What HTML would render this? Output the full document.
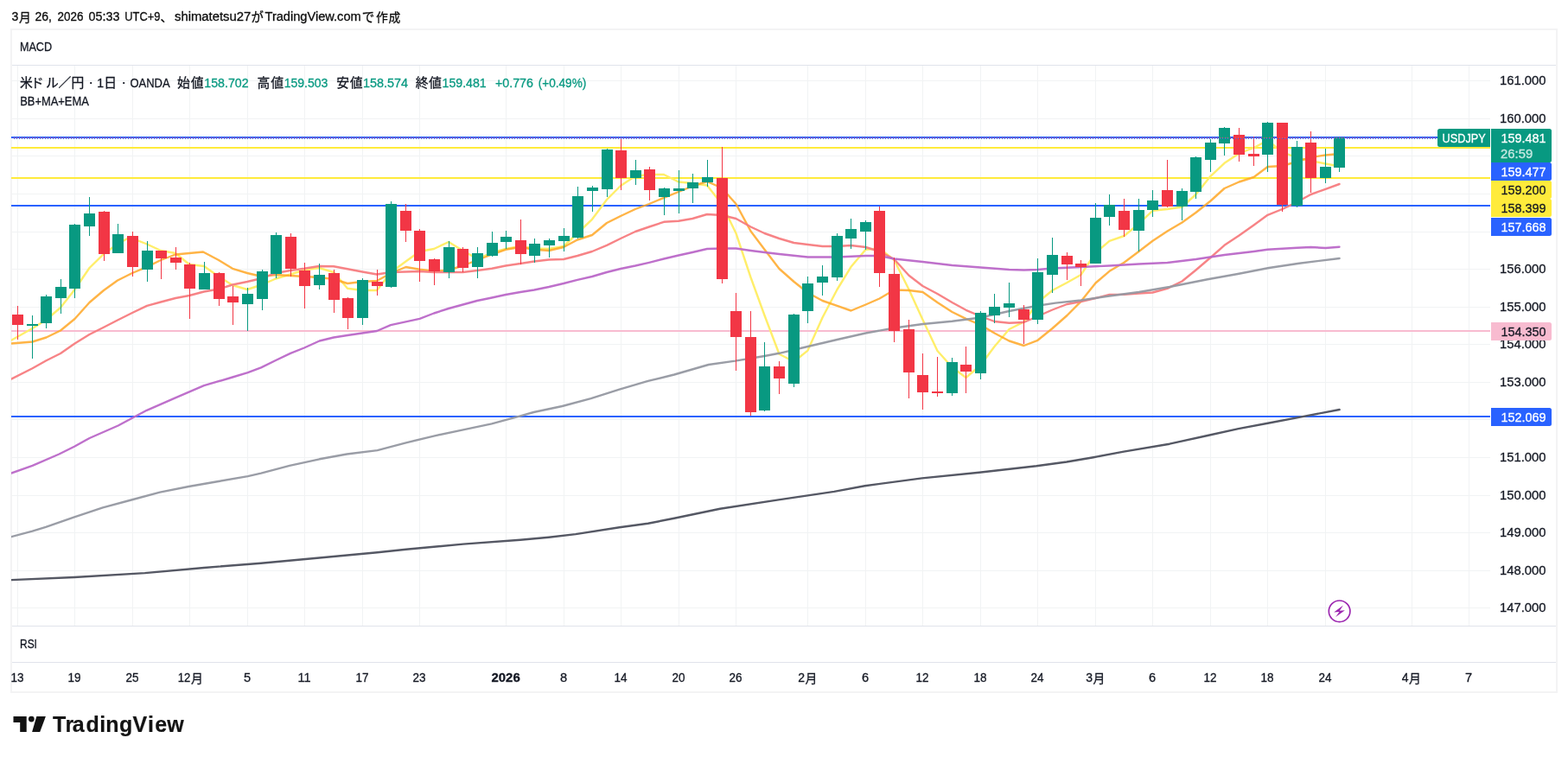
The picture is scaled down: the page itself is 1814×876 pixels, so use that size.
<!DOCTYPE html>
<html><head><meta charset="utf-8"><title>USDJPY chart</title>
<style>html,body{margin:0;padding:0;background:#fff}body{width:1814px;height:876px;overflow:hidden;font-family:"Liberation Sans","Noto Sans CJK JP",sans-serif}svg{display:block;will-change:transform}</style></head>
<body>
<svg width="1814" height="876" viewBox="0 0 1814 876" font-family="'Liberation Sans', 'Noto Sans CJK JP', sans-serif">
<style>text{stroke-width:0.3px;paint-order:stroke fill}</style>
<rect width="1814" height="876" fill="#fff"/>
<g shape-rendering="crispEdges">
<rect x="13" y="34" width="1788" height="767" fill="none" stroke="#f3f3f4" stroke-width="2"/>
<rect x="20" y="76" width="1" height="648" fill="#f1f3f4"/>
<rect x="86" y="76" width="1" height="648" fill="#f1f3f4"/>
<rect x="153" y="76" width="1" height="648" fill="#f1f3f4"/>
<rect x="219" y="76" width="1" height="648" fill="#f1f3f4"/>
<rect x="286" y="76" width="1" height="648" fill="#f1f3f4"/>
<rect x="352" y="76" width="1" height="648" fill="#f1f3f4"/>
<rect x="419" y="76" width="1" height="648" fill="#f1f3f4"/>
<rect x="485" y="76" width="1" height="648" fill="#f1f3f4"/>
<rect x="585" y="76" width="1" height="648" fill="#f1f3f4"/>
<rect x="652" y="76" width="1" height="648" fill="#f1f3f4"/>
<rect x="718" y="76" width="1" height="648" fill="#f1f3f4"/>
<rect x="785" y="76" width="1" height="648" fill="#f1f3f4"/>
<rect x="851" y="76" width="1" height="648" fill="#f1f3f4"/>
<rect x="934" y="76" width="1" height="648" fill="#f1f3f4"/>
<rect x="1001" y="76" width="1" height="648" fill="#f1f3f4"/>
<rect x="1067" y="76" width="1" height="648" fill="#f1f3f4"/>
<rect x="1134" y="76" width="1" height="648" fill="#f1f3f4"/>
<rect x="1200" y="76" width="1" height="648" fill="#f1f3f4"/>
<rect x="1267" y="76" width="1" height="648" fill="#f1f3f4"/>
<rect x="1333" y="76" width="1" height="648" fill="#f1f3f4"/>
<rect x="1400" y="76" width="1" height="648" fill="#f1f3f4"/>
<rect x="1466" y="76" width="1" height="648" fill="#f1f3f4"/>
<rect x="1533" y="76" width="1" height="648" fill="#f1f3f4"/>
<rect x="1633" y="76" width="1" height="648" fill="#f1f3f4"/>
<rect x="1699" y="76" width="1" height="648" fill="#f1f3f4"/>
<rect x="14" y="703" width="1710" height="1" fill="#f1f3f4"/>
<rect x="14" y="660" width="1710" height="1" fill="#f1f3f4"/>
<rect x="14" y="616" width="1710" height="1" fill="#f1f3f4"/>
<rect x="14" y="573" width="1710" height="1" fill="#f1f3f4"/>
<rect x="14" y="529" width="1710" height="1" fill="#f1f3f4"/>
<rect x="14" y="485" width="1710" height="1" fill="#f1f3f4"/>
<rect x="14" y="442" width="1710" height="1" fill="#f1f3f4"/>
<rect x="14" y="398" width="1710" height="1" fill="#f1f3f4"/>
<rect x="14" y="355" width="1710" height="1" fill="#f1f3f4"/>
<rect x="14" y="311" width="1710" height="1" fill="#f1f3f4"/>
<rect x="14" y="268" width="1710" height="1" fill="#f1f3f4"/>
<rect x="14" y="224" width="1710" height="1" fill="#f1f3f4"/>
<rect x="14" y="180" width="1710" height="1" fill="#f1f3f4"/>
<rect x="14" y="137" width="1710" height="1" fill="#f1f3f4"/>
<rect x="14" y="93" width="1710" height="1" fill="#f1f3f4"/>
<rect x="14" y="75" width="1786" height="1" fill="#e0e3eb"/>
<rect x="14" y="724" width="1786" height="1" fill="#e0e3eb"/>
<rect x="14" y="766" width="1786" height="1" fill="#e0e3eb"/>
</g>
<g shape-rendering="crispEdges">
<rect x="13" y="382" width="1711" height="2" fill="#f8bbd0"/>
<rect x="13" y="481" width="1711" height="2" fill="#2962ff"/>
<rect x="13" y="237" width="1711" height="2" fill="#2962ff"/>
<rect x="13" y="205" width="1711" height="2" fill="#ffeb3b"/>
<rect x="13" y="170" width="1711" height="2" fill="#ffeb3b"/>
<rect x="13" y="158" width="1711" height="2" fill="#2962ff"/>
</g>
<clipPath id="cp"><rect x="13" y="76" width="1711" height="648"/></clipPath><g clip-path="url(#cp)">
<polyline points="13.0,393.8 37.5,380.0 53.5,370.0 70.0,356.0 86.5,335.0 103.5,310.0 120.0,293.8 136.0,282.5 147.5,276.0 153.0,275.8 170.0,282.5 186.0,290.0 203.0,293.0 219.0,306.0 236.0,308.0 253.0,320.0 269.0,330.0 286.0,335.0 303.0,329.5 319.0,322.5 336.0,317.5 352.0,312.5 369.0,310.0 386.0,315.0 402.0,333.8 419.0,336.0 436.0,336.0 452.5,315.0 469.5,302.5 485.5,291.0 502.0,288.0 519.0,280.0 535.5,290.0 552.0,299.5 569.0,292.5 585.0,288.0 602.0,285.0 618.0,287.5 635.0,288.0 652.0,285.0 668.0,270.0 685.0,253.8 702.0,231.0 718.0,215.0 735.0,203.8 751.0,202.0 768.0,202.0 785.0,210.5 801.0,212.0 818.0,214.5 835.0,236.0 851.5,270.0 868.5,321.0 884.5,365.0 901.5,409.8 918.5,418.5 934.5,405.6 951.5,367.5 968.5,335.0 984.5,308.8 1001.5,288.8 1017.5,287.5 1034.5,301.0 1051.5,335.0 1067.5,370.0 1084.5,406.0 1101.5,425.0 1117.5,437.0 1134.5,422.5 1150.5,401.0 1167.5,381.0 1184.5,372.5 1200.5,350.0 1217.5,336.0 1234.5,327.0 1250.5,318.0 1267.5,292.5 1283.5,278.8 1300.5,273.0 1317.5,258.8 1333.5,243.8 1350.5,242.0 1367.5,239.5 1383.5,225.0 1400.5,203.8 1416.5,188.8 1433.5,177.5 1450.5,171.0 1466.5,162.5 1483.5,176.0 1500.5,182.5 1516.5,186.0 1533.5,189.5 1549.5,192.5" fill="none" stroke="#ffee6a" stroke-width="2.4" stroke-linejoin="round" stroke-linecap="round" stroke-opacity="1"/>
<polyline points="13.0,397.5 37.5,395.5 53.5,390.5 70.0,382.5 86.5,369.0 103.5,350.0 120.0,336.0 136.0,324.5 153.0,316.0 170.0,308.8 186.0,301.0 203.0,294.5 219.0,293.0 235.0,291.5 253.0,301.0 269.0,310.8 286.0,316.0 303.0,320.0 319.0,318.0 336.0,319.0 352.0,320.0 369.0,321.0 386.0,323.0 402.0,328.0 419.0,326.0 436.0,325.0 452.5,316.0 469.5,309.0 485.5,311.8 502.0,313.8 519.0,312.5 535.5,307.5 552.0,301.0 569.0,294.5 585.0,288.8 602.0,286.0 618.0,288.8 635.0,290.0 652.0,286.0 668.0,277.5 685.0,272.0 702.0,258.0 718.0,250.0 735.0,242.0 751.0,236.0 768.0,228.8 785.0,222.0 801.0,215.5 818.0,210.0 835.0,217.5 851.5,236.0 868.5,267.5 884.5,288.8 901.5,311.0 918.5,326.0 934.5,338.8 951.5,348.0 968.5,353.8 984.5,359.5 1001.5,352.5 1017.5,345.5 1034.5,335.5 1051.5,336.0 1067.5,338.0 1084.5,350.0 1101.5,361.0 1117.5,368.8 1134.5,376.0 1150.5,385.5 1167.5,394.5 1184.5,400.0 1200.5,393.8 1217.5,380.0 1234.5,365.0 1250.5,348.8 1267.5,327.5 1283.5,313.8 1300.5,303.8 1317.5,291.0 1333.5,278.8 1350.5,267.5 1367.5,257.5 1383.5,246.0 1400.5,232.5 1416.5,218.0 1433.5,210.5 1450.5,205.0 1466.5,193.0 1483.5,192.0 1500.5,187.0 1516.5,182.0 1533.5,179.5 1549.5,178.0" fill="none" stroke="#ffa726" stroke-width="2.4" stroke-linejoin="round" stroke-linecap="round" stroke-opacity="0.85"/>
<polyline points="13.0,438.7 37.5,426.3 53.5,417.3 70.0,409.0 86.5,397.5 103.5,387.0 120.0,378.8 136.0,370.5 153.0,362.0 170.0,353.8 186.0,349.5 203.0,345.0 219.0,342.0 236.0,337.5 253.0,334.5 269.0,329.5 286.0,326.0 303.0,322.0 319.0,316.0 336.0,313.0 352.0,310.8 369.0,308.0 386.0,308.2 402.0,311.2 419.0,314.5 436.0,317.5 452.5,315.0 469.5,314.5 485.5,314.0 502.0,315.0 519.0,315.0 535.5,315.0 552.0,313.0 569.0,310.8 585.0,307.5 602.0,305.0 618.0,302.5 635.0,300.5 652.0,300.0 668.0,296.0 685.0,291.0 702.0,283.8 718.0,276.0 735.0,268.0 751.0,262.5 768.0,256.8 785.0,255.8 801.0,253.0 818.0,248.0 835.0,249.0 851.5,253.0 868.5,262.5 884.5,270.0 901.5,276.0 918.5,281.0 934.5,283.0 951.5,285.0 968.5,285.0 984.5,284.0 1001.5,286.0 1017.5,291.0 1034.5,300.0 1051.5,318.8 1067.5,331.0 1084.5,340.0 1101.5,350.0 1117.5,358.8 1134.5,366.0 1150.5,372.0 1167.5,373.8 1184.5,373.0 1200.5,366.0 1217.5,358.5 1234.5,352.0 1250.5,349.0 1267.5,345.0 1283.5,341.0 1300.5,340.8 1317.5,339.5 1333.5,338.5 1350.5,333.8 1367.5,325.5 1383.5,312.5 1400.5,298.0 1416.5,283.8 1433.5,272.5 1450.5,260.5 1466.5,248.8 1483.5,242.0 1500.5,233.8 1516.5,225.0 1533.5,218.8 1549.5,213.0" fill="none" stroke="#f77c80" stroke-width="2.4" stroke-linejoin="round" stroke-linecap="round" stroke-opacity="0.95"/>
<polyline points="13.0,547.6 37.5,538.8 68.4,525.5 86.0,516.7 103.6,507.0 136.7,492.5 169.8,474.8 202.9,460.3 236.0,446.2 269.0,436.5 286.7,431.2 302.0,425.4 319.0,417.0 336.0,408.8 352.0,402.5 369.6,394.5 386.0,390.5 402.0,388.0 419.0,385.5 436.0,383.0 452.0,376.2 485.5,368.8 502.0,362.5 519.0,357.0 535.5,352.5 552.0,348.0 569.0,344.5 585.0,341.0 602.0,338.0 618.0,335.5 635.0,332.0 652.0,328.0 668.0,323.8 685.0,320.0 702.0,315.0 718.0,311.0 735.0,307.5 751.0,303.8 768.0,299.5 785.0,295.5 801.0,292.0 818.0,288.0 835.0,287.5 851.5,287.5 868.5,290.0 884.5,292.0 901.5,294.0 934.5,297.5 968.5,297.5 1001.5,296.0 1017.5,296.0 1034.5,299.5 1067.5,303.0 1101.5,307.0 1134.5,309.5 1167.5,312.0 1184.5,312.5 1200.5,312.0 1217.5,310.5 1250.5,309.0 1283.5,307.5 1317.5,305.5 1350.5,304.0 1383.5,300.0 1416.5,295.0 1450.5,291.0 1466.5,288.8 1500.5,286.8 1516.5,286.0 1533.5,287.0 1549.5,285.8" fill="none" stroke="#ba68c8" stroke-width="2.4" stroke-linejoin="round" stroke-linecap="round" stroke-opacity="0.95"/>
<polyline points="13.0,621.2 37.5,614.6 53.0,609.8 86.0,598.3 119.0,587.3 152.0,578.5 185.0,569.6 218.3,563.0 251.4,557.3 286.7,551.1 302.0,547.6 335.0,538.8 369.6,531.3 401.3,525.5 436.6,521.1 469.7,512.3 502.8,504.4 535.8,497.3 568.9,490.3 602.0,481.4 617.4,477.0 650.5,470.0 683.6,461.1 716.6,450.6 749.7,440.9 780.0,433.5 819.7,422.0 850.6,417.6 884.5,412.0 901.5,408.8 934.5,401.0 968.5,393.0 1001.5,385.5 1034.5,379.5 1067.5,375.0 1101.5,371.8 1134.5,367.5 1167.5,360.0 1200.5,353.8 1221.0,350.6 1250.5,347.5 1283.5,342.5 1317.5,338.0 1353.0,332.0 1397.0,323.2 1432.0,317.0 1468.0,310.0 1503.0,304.7 1549.6,299.0" fill="none" stroke="#9598a1" stroke-width="2.4" stroke-linejoin="round" stroke-linecap="round" stroke-opacity="0.95"/>
<polyline points="13.0,671.1 86.0,668.0 167.6,663.1 236.0,657.0 302.0,651.7 369.6,645.5 436.6,639.3 469.7,635.8 535.8,629.6 602.0,624.8 635.0,621.7 666.0,618.1 716.6,610.2 749.7,605.8 780.0,599.7 833.0,588.7 899.0,578.6 965.0,568.9 1000.5,562.2 1066.7,553.4 1132.8,546.8 1199.0,539.3 1234.0,534.5 1265.0,529.2 1300.0,522.6 1353.0,513.7 1397.0,504.0 1432.7,496.1 1468.0,489.5 1503.0,482.9 1549.6,474.0" fill="none" stroke="#555864" stroke-width="2.4" stroke-linejoin="round" stroke-linecap="round" stroke-opacity="1"/>
</g>
<g shape-rendering="crispEdges">
<rect x="20" y="354" width="1" height="39" fill="#f23645"/>
<rect x="14" y="364" width="13" height="12" fill="#f23645"/>
<rect x="37" y="365" width="1" height="50" fill="#089981"/>
<rect x="31" y="375" width="13" height="2" fill="#089981"/>
<rect x="53" y="341" width="1" height="39" fill="#089981"/>
<rect x="47" y="343" width="13" height="31" fill="#089981"/>
<rect x="70" y="323" width="1" height="40" fill="#089981"/>
<rect x="64" y="332" width="13" height="13" fill="#089981"/>
<rect x="86" y="259" width="1" height="86" fill="#089981"/>
<rect x="80" y="260" width="13" height="74" fill="#089981"/>
<rect x="103" y="228" width="1" height="45" fill="#089981"/>
<rect x="97" y="247" width="13" height="15" fill="#089981"/>
<rect x="120" y="244" width="1" height="58" fill="#f23645"/>
<rect x="114" y="245" width="13" height="49" fill="#f23645"/>
<rect x="136" y="259" width="1" height="34" fill="#089981"/>
<rect x="130" y="271" width="13" height="22" fill="#089981"/>
<rect x="153" y="268" width="1" height="52" fill="#f23645"/>
<rect x="147" y="273" width="13" height="36" fill="#f23645"/>
<rect x="170" y="279" width="1" height="47" fill="#089981"/>
<rect x="164" y="290" width="13" height="22" fill="#089981"/>
<rect x="186" y="290" width="1" height="33" fill="#f23645"/>
<rect x="180" y="290" width="13" height="9" fill="#f23645"/>
<rect x="203" y="286" width="1" height="26" fill="#f23645"/>
<rect x="197" y="298" width="13" height="6" fill="#f23645"/>
<rect x="219" y="304" width="1" height="65" fill="#f23645"/>
<rect x="213" y="306" width="13" height="28" fill="#f23645"/>
<rect x="236" y="303" width="1" height="32" fill="#089981"/>
<rect x="230" y="316" width="13" height="19" fill="#089981"/>
<rect x="253" y="315" width="1" height="39" fill="#f23645"/>
<rect x="247" y="316" width="13" height="30" fill="#f23645"/>
<rect x="269" y="331" width="1" height="45" fill="#f23645"/>
<rect x="263" y="343" width="13" height="7" fill="#f23645"/>
<rect x="286" y="333" width="1" height="50" fill="#089981"/>
<rect x="280" y="340" width="13" height="12" fill="#089981"/>
<rect x="303" y="312" width="1" height="47" fill="#089981"/>
<rect x="297" y="314" width="13" height="32" fill="#089981"/>
<rect x="319" y="269" width="1" height="53" fill="#089981"/>
<rect x="313" y="272" width="13" height="45" fill="#089981"/>
<rect x="336" y="270" width="1" height="50" fill="#f23645"/>
<rect x="330" y="274" width="13" height="37" fill="#f23645"/>
<rect x="352" y="304" width="1" height="53" fill="#f23645"/>
<rect x="346" y="313" width="13" height="18" fill="#f23645"/>
<rect x="369" y="305" width="1" height="30" fill="#089981"/>
<rect x="363" y="318" width="13" height="12" fill="#089981"/>
<rect x="386" y="312" width="1" height="50" fill="#f23645"/>
<rect x="380" y="316" width="13" height="31" fill="#f23645"/>
<rect x="402" y="344" width="1" height="37" fill="#f23645"/>
<rect x="396" y="345" width="13" height="23" fill="#f23645"/>
<rect x="419" y="322" width="1" height="54" fill="#089981"/>
<rect x="413" y="324" width="13" height="44" fill="#089981"/>
<rect x="436" y="312" width="1" height="30" fill="#f23645"/>
<rect x="430" y="326" width="13" height="5" fill="#f23645"/>
<rect x="452" y="233" width="1" height="100" fill="#089981"/>
<rect x="446" y="236" width="13" height="96" fill="#089981"/>
<rect x="469" y="236" width="1" height="44" fill="#f23645"/>
<rect x="463" y="244" width="13" height="23" fill="#f23645"/>
<rect x="485" y="265" width="1" height="61" fill="#f23645"/>
<rect x="479" y="267" width="13" height="35" fill="#f23645"/>
<rect x="502" y="299" width="1" height="31" fill="#f23645"/>
<rect x="496" y="300" width="13" height="14" fill="#f23645"/>
<rect x="519" y="279" width="1" height="43" fill="#089981"/>
<rect x="513" y="286" width="13" height="29" fill="#089981"/>
<rect x="535" y="286" width="1" height="29" fill="#f23645"/>
<rect x="529" y="288" width="13" height="22" fill="#f23645"/>
<rect x="552" y="286" width="1" height="36" fill="#089981"/>
<rect x="546" y="293" width="13" height="16" fill="#089981"/>
<rect x="569" y="268" width="1" height="29" fill="#089981"/>
<rect x="563" y="281" width="13" height="15" fill="#089981"/>
<rect x="585" y="267" width="1" height="21" fill="#089981"/>
<rect x="579" y="274" width="13" height="6" fill="#089981"/>
<rect x="602" y="254" width="1" height="52" fill="#f23645"/>
<rect x="596" y="278" width="13" height="16" fill="#f23645"/>
<rect x="618" y="276" width="1" height="28" fill="#089981"/>
<rect x="612" y="282" width="13" height="14" fill="#089981"/>
<rect x="635" y="276" width="1" height="22" fill="#089981"/>
<rect x="629" y="278" width="13" height="6" fill="#089981"/>
<rect x="652" y="264" width="1" height="27" fill="#089981"/>
<rect x="646" y="273" width="13" height="6" fill="#089981"/>
<rect x="668" y="216" width="1" height="60" fill="#089981"/>
<rect x="662" y="227" width="13" height="48" fill="#089981"/>
<rect x="685" y="215" width="1" height="30" fill="#089981"/>
<rect x="679" y="217" width="13" height="4" fill="#089981"/>
<rect x="702" y="172" width="1" height="56" fill="#089981"/>
<rect x="696" y="173" width="13" height="46" fill="#089981"/>
<rect x="718" y="160" width="1" height="60" fill="#f23645"/>
<rect x="712" y="174" width="13" height="32" fill="#f23645"/>
<rect x="735" y="185" width="1" height="29" fill="#089981"/>
<rect x="729" y="197" width="13" height="9" fill="#089981"/>
<rect x="751" y="193" width="1" height="39" fill="#f23645"/>
<rect x="745" y="196" width="13" height="24" fill="#f23645"/>
<rect x="768" y="217" width="1" height="32" fill="#089981"/>
<rect x="762" y="218" width="13" height="10" fill="#089981"/>
<rect x="785" y="197" width="1" height="50" fill="#089981"/>
<rect x="779" y="218" width="13" height="3" fill="#089981"/>
<rect x="801" y="201" width="1" height="34" fill="#089981"/>
<rect x="795" y="211" width="13" height="7" fill="#089981"/>
<rect x="818" y="185" width="1" height="31" fill="#089981"/>
<rect x="812" y="205" width="13" height="6" fill="#089981"/>
<rect x="835" y="170" width="1" height="158" fill="#f23645"/>
<rect x="829" y="206" width="13" height="117" fill="#f23645"/>
<rect x="851" y="339" width="1" height="90" fill="#f23645"/>
<rect x="845" y="360" width="13" height="30" fill="#f23645"/>
<rect x="868" y="360" width="1" height="121" fill="#f23645"/>
<rect x="862" y="390" width="13" height="87" fill="#f23645"/>
<rect x="884" y="396" width="1" height="80" fill="#089981"/>
<rect x="878" y="424" width="13" height="51" fill="#089981"/>
<rect x="901" y="418" width="1" height="38" fill="#f23645"/>
<rect x="895" y="424" width="13" height="14" fill="#f23645"/>
<rect x="918" y="363" width="1" height="85" fill="#089981"/>
<rect x="912" y="364" width="13" height="80" fill="#089981"/>
<rect x="934" y="320" width="1" height="54" fill="#089981"/>
<rect x="928" y="328" width="13" height="32" fill="#089981"/>
<rect x="951" y="307" width="1" height="35" fill="#089981"/>
<rect x="945" y="320" width="13" height="7" fill="#089981"/>
<rect x="968" y="270" width="1" height="55" fill="#089981"/>
<rect x="962" y="273" width="13" height="48" fill="#089981"/>
<rect x="984" y="253" width="1" height="35" fill="#089981"/>
<rect x="978" y="265" width="13" height="11" fill="#089981"/>
<rect x="1001" y="255" width="1" height="34" fill="#089981"/>
<rect x="995" y="257" width="13" height="11" fill="#089981"/>
<rect x="1017" y="239" width="1" height="93" fill="#f23645"/>
<rect x="1011" y="244" width="13" height="72" fill="#f23645"/>
<rect x="1034" y="298" width="1" height="98" fill="#f23645"/>
<rect x="1028" y="317" width="13" height="66" fill="#f23645"/>
<rect x="1051" y="370" width="1" height="91" fill="#f23645"/>
<rect x="1045" y="381" width="13" height="50" fill="#f23645"/>
<rect x="1067" y="409" width="1" height="65" fill="#f23645"/>
<rect x="1061" y="434" width="13" height="20" fill="#f23645"/>
<rect x="1084" y="413" width="1" height="46" fill="#f23645"/>
<rect x="1078" y="453" width="13" height="2" fill="#f23645"/>
<rect x="1101" y="414" width="1" height="44" fill="#089981"/>
<rect x="1095" y="419" width="13" height="36" fill="#089981"/>
<rect x="1117" y="401" width="1" height="54" fill="#f23645"/>
<rect x="1111" y="422" width="13" height="8" fill="#f23645"/>
<rect x="1134" y="360" width="1" height="79" fill="#089981"/>
<rect x="1128" y="362" width="13" height="70" fill="#089981"/>
<rect x="1150" y="340" width="1" height="34" fill="#089981"/>
<rect x="1144" y="355" width="13" height="10" fill="#089981"/>
<rect x="1167" y="327" width="1" height="40" fill="#089981"/>
<rect x="1161" y="351" width="13" height="5" fill="#089981"/>
<rect x="1184" y="353" width="1" height="45" fill="#f23645"/>
<rect x="1178" y="358" width="13" height="12" fill="#f23645"/>
<rect x="1200" y="299" width="1" height="76" fill="#089981"/>
<rect x="1194" y="315" width="13" height="55" fill="#089981"/>
<rect x="1217" y="275" width="1" height="64" fill="#089981"/>
<rect x="1211" y="295" width="13" height="23" fill="#089981"/>
<rect x="1234" y="292" width="1" height="32" fill="#f23645"/>
<rect x="1228" y="296" width="13" height="10" fill="#f23645"/>
<rect x="1250" y="301" width="1" height="30" fill="#f23645"/>
<rect x="1244" y="305" width="13" height="4" fill="#f23645"/>
<rect x="1267" y="235" width="1" height="70" fill="#089981"/>
<rect x="1261" y="252" width="13" height="53" fill="#089981"/>
<rect x="1283" y="225" width="1" height="36" fill="#089981"/>
<rect x="1277" y="237" width="13" height="14" fill="#089981"/>
<rect x="1300" y="230" width="1" height="44" fill="#f23645"/>
<rect x="1294" y="244" width="13" height="22" fill="#f23645"/>
<rect x="1317" y="230" width="1" height="61" fill="#089981"/>
<rect x="1311" y="243" width="13" height="24" fill="#089981"/>
<rect x="1333" y="220" width="1" height="31" fill="#089981"/>
<rect x="1327" y="232" width="13" height="11" fill="#089981"/>
<rect x="1350" y="185" width="1" height="55" fill="#f23645"/>
<rect x="1344" y="220" width="13" height="19" fill="#f23645"/>
<rect x="1367" y="218" width="1" height="37" fill="#089981"/>
<rect x="1361" y="221" width="13" height="18" fill="#089981"/>
<rect x="1383" y="181" width="1" height="49" fill="#089981"/>
<rect x="1377" y="182" width="13" height="40" fill="#089981"/>
<rect x="1400" y="161" width="1" height="38" fill="#089981"/>
<rect x="1394" y="165" width="13" height="20" fill="#089981"/>
<rect x="1416" y="147" width="1" height="33" fill="#089981"/>
<rect x="1410" y="148" width="13" height="18" fill="#089981"/>
<rect x="1433" y="148" width="1" height="39" fill="#f23645"/>
<rect x="1427" y="156" width="13" height="23" fill="#f23645"/>
<rect x="1450" y="158" width="1" height="34" fill="#f23645"/>
<rect x="1444" y="178" width="13" height="3" fill="#f23645"/>
<rect x="1466" y="141" width="1" height="58" fill="#089981"/>
<rect x="1460" y="142" width="13" height="37" fill="#089981"/>
<rect x="1483" y="142" width="1" height="103" fill="#f23645"/>
<rect x="1477" y="142" width="13" height="95" fill="#f23645"/>
<rect x="1500" y="163" width="1" height="77" fill="#089981"/>
<rect x="1494" y="170" width="13" height="68" fill="#089981"/>
<rect x="1516" y="152" width="1" height="71" fill="#f23645"/>
<rect x="1510" y="165" width="13" height="41" fill="#f23645"/>
<rect x="1533" y="172" width="1" height="40" fill="#089981"/>
<rect x="1527" y="193" width="13" height="13" fill="#089981"/>
<rect x="1549" y="159" width="1" height="40" fill="#089981"/>
<rect x="1543" y="159" width="13" height="35" fill="#089981"/>
</g>
<g shape-rendering="crispEdges">
<path d="M16 159h1v1h-1zM19 159h1v1h-1zM22 159h1v1h-1zM25 159h1v1h-1zM28 159h1v1h-1zM31 159h1v1h-1zM34 159h1v1h-1zM37 159h1v1h-1zM40 159h1v1h-1zM43 159h1v1h-1zM46 159h1v1h-1zM49 159h1v1h-1zM52 159h1v1h-1zM55 159h1v1h-1zM58 159h1v1h-1zM61 159h1v1h-1zM64 159h1v1h-1zM67 159h1v1h-1zM70 159h1v1h-1zM73 159h1v1h-1zM76 159h1v1h-1zM79 159h1v1h-1zM82 159h1v1h-1zM85 159h1v1h-1zM88 159h1v1h-1zM91 159h1v1h-1zM94 159h1v1h-1zM97 159h1v1h-1zM100 159h1v1h-1zM103 159h1v1h-1zM106 159h1v1h-1zM109 159h1v1h-1zM112 159h1v1h-1zM115 159h1v1h-1zM118 159h1v1h-1zM121 159h1v1h-1zM124 159h1v1h-1zM127 159h1v1h-1zM130 159h1v1h-1zM133 159h1v1h-1zM136 159h1v1h-1zM139 159h1v1h-1zM142 159h1v1h-1zM145 159h1v1h-1zM148 159h1v1h-1zM151 159h1v1h-1zM154 159h1v1h-1zM157 159h1v1h-1zM160 159h1v1h-1zM163 159h1v1h-1zM166 159h1v1h-1zM169 159h1v1h-1zM172 159h1v1h-1zM175 159h1v1h-1zM178 159h1v1h-1zM181 159h1v1h-1zM184 159h1v1h-1zM187 159h1v1h-1zM190 159h1v1h-1zM193 159h1v1h-1zM196 159h1v1h-1zM199 159h1v1h-1zM202 159h1v1h-1zM205 159h1v1h-1zM208 159h1v1h-1zM211 159h1v1h-1zM214 159h1v1h-1zM217 159h1v1h-1zM220 159h1v1h-1zM223 159h1v1h-1zM226 159h1v1h-1zM229 159h1v1h-1zM232 159h1v1h-1zM235 159h1v1h-1zM238 159h1v1h-1zM241 159h1v1h-1zM244 159h1v1h-1zM247 159h1v1h-1zM250 159h1v1h-1zM253 159h1v1h-1zM256 159h1v1h-1zM259 159h1v1h-1zM262 159h1v1h-1zM265 159h1v1h-1zM268 159h1v1h-1zM271 159h1v1h-1zM274 159h1v1h-1zM277 159h1v1h-1zM280 159h1v1h-1zM283 159h1v1h-1zM286 159h1v1h-1zM289 159h1v1h-1zM292 159h1v1h-1zM295 159h1v1h-1zM298 159h1v1h-1zM301 159h1v1h-1zM304 159h1v1h-1zM307 159h1v1h-1zM310 159h1v1h-1zM313 159h1v1h-1zM316 159h1v1h-1zM319 159h1v1h-1zM322 159h1v1h-1zM325 159h1v1h-1zM328 159h1v1h-1zM331 159h1v1h-1zM334 159h1v1h-1zM337 159h1v1h-1zM340 159h1v1h-1zM343 159h1v1h-1zM346 159h1v1h-1zM349 159h1v1h-1zM352 159h1v1h-1zM355 159h1v1h-1zM358 159h1v1h-1zM361 159h1v1h-1zM364 159h1v1h-1zM367 159h1v1h-1zM370 159h1v1h-1zM373 159h1v1h-1zM376 159h1v1h-1zM379 159h1v1h-1zM382 159h1v1h-1zM385 159h1v1h-1zM388 159h1v1h-1zM391 159h1v1h-1zM394 159h1v1h-1zM397 159h1v1h-1zM400 159h1v1h-1zM403 159h1v1h-1zM406 159h1v1h-1zM409 159h1v1h-1zM412 159h1v1h-1zM415 159h1v1h-1zM418 159h1v1h-1zM421 159h1v1h-1zM424 159h1v1h-1zM427 159h1v1h-1zM430 159h1v1h-1zM433 159h1v1h-1zM436 159h1v1h-1zM439 159h1v1h-1zM442 159h1v1h-1zM445 159h1v1h-1zM448 159h1v1h-1zM451 159h1v1h-1zM454 159h1v1h-1zM457 159h1v1h-1zM460 159h1v1h-1zM463 159h1v1h-1zM466 159h1v1h-1zM469 159h1v1h-1zM472 159h1v1h-1zM475 159h1v1h-1zM478 159h1v1h-1zM481 159h1v1h-1zM484 159h1v1h-1zM487 159h1v1h-1zM490 159h1v1h-1zM493 159h1v1h-1zM496 159h1v1h-1zM499 159h1v1h-1zM502 159h1v1h-1zM505 159h1v1h-1zM508 159h1v1h-1zM511 159h1v1h-1zM514 159h1v1h-1zM517 159h1v1h-1zM520 159h1v1h-1zM523 159h1v1h-1zM526 159h1v1h-1zM529 159h1v1h-1zM532 159h1v1h-1zM535 159h1v1h-1zM538 159h1v1h-1zM541 159h1v1h-1zM544 159h1v1h-1zM547 159h1v1h-1zM550 159h1v1h-1zM553 159h1v1h-1zM556 159h1v1h-1zM559 159h1v1h-1zM562 159h1v1h-1zM565 159h1v1h-1zM568 159h1v1h-1zM571 159h1v1h-1zM574 159h1v1h-1zM577 159h1v1h-1zM580 159h1v1h-1zM583 159h1v1h-1zM586 159h1v1h-1zM589 159h1v1h-1zM592 159h1v1h-1zM595 159h1v1h-1zM598 159h1v1h-1zM601 159h1v1h-1zM604 159h1v1h-1zM607 159h1v1h-1zM610 159h1v1h-1zM613 159h1v1h-1zM616 159h1v1h-1zM619 159h1v1h-1zM622 159h1v1h-1zM625 159h1v1h-1zM628 159h1v1h-1zM631 159h1v1h-1zM634 159h1v1h-1zM637 159h1v1h-1zM640 159h1v1h-1zM643 159h1v1h-1zM646 159h1v1h-1zM649 159h1v1h-1zM652 159h1v1h-1zM655 159h1v1h-1zM658 159h1v1h-1zM661 159h1v1h-1zM664 159h1v1h-1zM667 159h1v1h-1zM670 159h1v1h-1zM673 159h1v1h-1zM676 159h1v1h-1zM679 159h1v1h-1zM682 159h1v1h-1zM685 159h1v1h-1zM688 159h1v1h-1zM691 159h1v1h-1zM694 159h1v1h-1zM697 159h1v1h-1zM700 159h1v1h-1zM703 159h1v1h-1zM706 159h1v1h-1zM709 159h1v1h-1zM712 159h1v1h-1zM715 159h1v1h-1zM718 159h1v1h-1zM721 159h1v1h-1zM724 159h1v1h-1zM727 159h1v1h-1zM730 159h1v1h-1zM733 159h1v1h-1zM736 159h1v1h-1zM739 159h1v1h-1zM742 159h1v1h-1zM745 159h1v1h-1zM748 159h1v1h-1zM751 159h1v1h-1zM754 159h1v1h-1zM757 159h1v1h-1zM760 159h1v1h-1zM763 159h1v1h-1zM766 159h1v1h-1zM769 159h1v1h-1zM772 159h1v1h-1zM775 159h1v1h-1zM778 159h1v1h-1zM781 159h1v1h-1zM784 159h1v1h-1zM787 159h1v1h-1zM790 159h1v1h-1zM793 159h1v1h-1zM796 159h1v1h-1zM799 159h1v1h-1zM802 159h1v1h-1zM805 159h1v1h-1zM808 159h1v1h-1zM811 159h1v1h-1zM814 159h1v1h-1zM817 159h1v1h-1zM820 159h1v1h-1zM823 159h1v1h-1zM826 159h1v1h-1zM829 159h1v1h-1zM832 159h1v1h-1zM835 159h1v1h-1zM838 159h1v1h-1zM841 159h1v1h-1zM844 159h1v1h-1zM847 159h1v1h-1zM850 159h1v1h-1zM853 159h1v1h-1zM856 159h1v1h-1zM859 159h1v1h-1zM862 159h1v1h-1zM865 159h1v1h-1zM868 159h1v1h-1zM871 159h1v1h-1zM874 159h1v1h-1zM877 159h1v1h-1zM880 159h1v1h-1zM883 159h1v1h-1zM886 159h1v1h-1zM889 159h1v1h-1zM892 159h1v1h-1zM895 159h1v1h-1zM898 159h1v1h-1zM901 159h1v1h-1zM904 159h1v1h-1zM907 159h1v1h-1zM910 159h1v1h-1zM913 159h1v1h-1zM916 159h1v1h-1zM919 159h1v1h-1zM922 159h1v1h-1zM925 159h1v1h-1zM928 159h1v1h-1zM931 159h1v1h-1zM934 159h1v1h-1zM937 159h1v1h-1zM940 159h1v1h-1zM943 159h1v1h-1zM946 159h1v1h-1zM949 159h1v1h-1zM952 159h1v1h-1zM955 159h1v1h-1zM958 159h1v1h-1zM961 159h1v1h-1zM964 159h1v1h-1zM967 159h1v1h-1zM970 159h1v1h-1zM973 159h1v1h-1zM976 159h1v1h-1zM979 159h1v1h-1zM982 159h1v1h-1zM985 159h1v1h-1zM988 159h1v1h-1zM991 159h1v1h-1zM994 159h1v1h-1zM997 159h1v1h-1zM1000 159h1v1h-1zM1003 159h1v1h-1zM1006 159h1v1h-1zM1009 159h1v1h-1zM1012 159h1v1h-1zM1015 159h1v1h-1zM1018 159h1v1h-1zM1021 159h1v1h-1zM1024 159h1v1h-1zM1027 159h1v1h-1zM1030 159h1v1h-1zM1033 159h1v1h-1zM1036 159h1v1h-1zM1039 159h1v1h-1zM1042 159h1v1h-1zM1045 159h1v1h-1zM1048 159h1v1h-1zM1051 159h1v1h-1zM1054 159h1v1h-1zM1057 159h1v1h-1zM1060 159h1v1h-1zM1063 159h1v1h-1zM1066 159h1v1h-1zM1069 159h1v1h-1zM1072 159h1v1h-1zM1075 159h1v1h-1zM1078 159h1v1h-1zM1081 159h1v1h-1zM1084 159h1v1h-1zM1087 159h1v1h-1zM1090 159h1v1h-1zM1093 159h1v1h-1zM1096 159h1v1h-1zM1099 159h1v1h-1zM1102 159h1v1h-1zM1105 159h1v1h-1zM1108 159h1v1h-1zM1111 159h1v1h-1zM1114 159h1v1h-1zM1117 159h1v1h-1zM1120 159h1v1h-1zM1123 159h1v1h-1zM1126 159h1v1h-1zM1129 159h1v1h-1zM1132 159h1v1h-1zM1135 159h1v1h-1zM1138 159h1v1h-1zM1141 159h1v1h-1zM1144 159h1v1h-1zM1147 159h1v1h-1zM1150 159h1v1h-1zM1153 159h1v1h-1zM1156 159h1v1h-1zM1159 159h1v1h-1zM1162 159h1v1h-1zM1165 159h1v1h-1zM1168 159h1v1h-1zM1171 159h1v1h-1zM1174 159h1v1h-1zM1177 159h1v1h-1zM1180 159h1v1h-1zM1183 159h1v1h-1zM1186 159h1v1h-1zM1189 159h1v1h-1zM1192 159h1v1h-1zM1195 159h1v1h-1zM1198 159h1v1h-1zM1201 159h1v1h-1zM1204 159h1v1h-1zM1207 159h1v1h-1zM1210 159h1v1h-1zM1213 159h1v1h-1zM1216 159h1v1h-1zM1219 159h1v1h-1zM1222 159h1v1h-1zM1225 159h1v1h-1zM1228 159h1v1h-1zM1231 159h1v1h-1zM1234 159h1v1h-1zM1237 159h1v1h-1zM1240 159h1v1h-1zM1243 159h1v1h-1zM1246 159h1v1h-1zM1249 159h1v1h-1zM1252 159h1v1h-1zM1255 159h1v1h-1zM1258 159h1v1h-1zM1261 159h1v1h-1zM1264 159h1v1h-1zM1267 159h1v1h-1zM1270 159h1v1h-1zM1273 159h1v1h-1zM1276 159h1v1h-1zM1279 159h1v1h-1zM1282 159h1v1h-1zM1285 159h1v1h-1zM1288 159h1v1h-1zM1291 159h1v1h-1zM1294 159h1v1h-1zM1297 159h1v1h-1zM1300 159h1v1h-1zM1303 159h1v1h-1zM1306 159h1v1h-1zM1309 159h1v1h-1zM1312 159h1v1h-1zM1315 159h1v1h-1zM1318 159h1v1h-1zM1321 159h1v1h-1zM1324 159h1v1h-1zM1327 159h1v1h-1zM1330 159h1v1h-1zM1333 159h1v1h-1zM1336 159h1v1h-1zM1339 159h1v1h-1zM1342 159h1v1h-1zM1345 159h1v1h-1zM1348 159h1v1h-1zM1351 159h1v1h-1zM1354 159h1v1h-1zM1357 159h1v1h-1zM1360 159h1v1h-1zM1363 159h1v1h-1zM1366 159h1v1h-1zM1369 159h1v1h-1zM1372 159h1v1h-1zM1375 159h1v1h-1zM1378 159h1v1h-1zM1381 159h1v1h-1zM1384 159h1v1h-1zM1387 159h1v1h-1zM1390 159h1v1h-1zM1393 159h1v1h-1zM1396 159h1v1h-1zM1399 159h1v1h-1zM1402 159h1v1h-1zM1405 159h1v1h-1zM1408 159h1v1h-1zM1411 159h1v1h-1zM1414 159h1v1h-1zM1417 159h1v1h-1zM1420 159h1v1h-1zM1423 159h1v1h-1zM1426 159h1v1h-1zM1429 159h1v1h-1zM1432 159h1v1h-1zM1435 159h1v1h-1zM1438 159h1v1h-1zM1441 159h1v1h-1zM1444 159h1v1h-1zM1447 159h1v1h-1zM1450 159h1v1h-1zM1453 159h1v1h-1zM1456 159h1v1h-1zM1459 159h1v1h-1zM1462 159h1v1h-1zM1465 159h1v1h-1zM1468 159h1v1h-1zM1471 159h1v1h-1zM1474 159h1v1h-1zM1477 159h1v1h-1zM1480 159h1v1h-1zM1483 159h1v1h-1zM1486 159h1v1h-1zM1489 159h1v1h-1zM1492 159h1v1h-1zM1495 159h1v1h-1zM1498 159h1v1h-1zM1501 159h1v1h-1zM1504 159h1v1h-1zM1507 159h1v1h-1zM1510 159h1v1h-1zM1513 159h1v1h-1zM1516 159h1v1h-1zM1519 159h1v1h-1zM1522 159h1v1h-1zM1525 159h1v1h-1zM1528 159h1v1h-1zM1531 159h1v1h-1zM1534 159h1v1h-1zM1537 159h1v1h-1zM1540 159h1v1h-1zM1543 159h1v1h-1zM1546 159h1v1h-1zM1549 159h1v1h-1zM1552 159h1v1h-1zM1555 159h1v1h-1zM1558 159h1v1h-1zM1561 159h1v1h-1zM1564 159h1v1h-1zM1567 159h1v1h-1zM1570 159h1v1h-1zM1573 159h1v1h-1zM1576 159h1v1h-1zM1579 159h1v1h-1zM1582 159h1v1h-1zM1585 159h1v1h-1zM1588 159h1v1h-1zM1591 159h1v1h-1zM1594 159h1v1h-1zM1597 159h1v1h-1zM1600 159h1v1h-1zM1603 159h1v1h-1zM1606 159h1v1h-1zM1609 159h1v1h-1zM1612 159h1v1h-1zM1615 159h1v1h-1zM1618 159h1v1h-1zM1621 159h1v1h-1zM1624 159h1v1h-1zM1627 159h1v1h-1zM1630 159h1v1h-1zM1633 159h1v1h-1zM1636 159h1v1h-1zM1639 159h1v1h-1zM1642 159h1v1h-1zM1645 159h1v1h-1zM1648 159h1v1h-1zM1651 159h1v1h-1zM1654 159h1v1h-1zM1657 159h1v1h-1zM1660 159h1v1h-1z" fill="#f0506a"/>
<path d="M16 160h1v1h-1zM19 160h1v1h-1zM22 160h1v1h-1zM25 160h1v1h-1zM28 160h1v1h-1zM31 160h1v1h-1zM34 160h1v1h-1zM37 160h1v1h-1zM40 160h1v1h-1zM43 160h1v1h-1zM46 160h1v1h-1zM49 160h1v1h-1zM52 160h1v1h-1zM55 160h1v1h-1zM58 160h1v1h-1zM61 160h1v1h-1zM64 160h1v1h-1zM67 160h1v1h-1zM70 160h1v1h-1zM73 160h1v1h-1zM76 160h1v1h-1zM79 160h1v1h-1zM82 160h1v1h-1zM85 160h1v1h-1zM88 160h1v1h-1zM91 160h1v1h-1zM94 160h1v1h-1zM97 160h1v1h-1zM100 160h1v1h-1zM103 160h1v1h-1zM106 160h1v1h-1zM109 160h1v1h-1zM112 160h1v1h-1zM115 160h1v1h-1zM118 160h1v1h-1zM121 160h1v1h-1zM124 160h1v1h-1zM127 160h1v1h-1zM130 160h1v1h-1zM133 160h1v1h-1zM136 160h1v1h-1zM139 160h1v1h-1zM142 160h1v1h-1zM145 160h1v1h-1zM148 160h1v1h-1zM151 160h1v1h-1zM154 160h1v1h-1zM157 160h1v1h-1zM160 160h1v1h-1zM163 160h1v1h-1zM166 160h1v1h-1zM169 160h1v1h-1zM172 160h1v1h-1zM175 160h1v1h-1zM178 160h1v1h-1zM181 160h1v1h-1zM184 160h1v1h-1zM187 160h1v1h-1zM190 160h1v1h-1zM193 160h1v1h-1zM196 160h1v1h-1zM199 160h1v1h-1zM202 160h1v1h-1zM205 160h1v1h-1zM208 160h1v1h-1zM211 160h1v1h-1zM214 160h1v1h-1zM217 160h1v1h-1zM220 160h1v1h-1zM223 160h1v1h-1zM226 160h1v1h-1zM229 160h1v1h-1zM232 160h1v1h-1zM235 160h1v1h-1zM238 160h1v1h-1zM241 160h1v1h-1zM244 160h1v1h-1zM247 160h1v1h-1zM250 160h1v1h-1zM253 160h1v1h-1zM256 160h1v1h-1zM259 160h1v1h-1zM262 160h1v1h-1zM265 160h1v1h-1zM268 160h1v1h-1zM271 160h1v1h-1zM274 160h1v1h-1zM277 160h1v1h-1zM280 160h1v1h-1zM283 160h1v1h-1zM286 160h1v1h-1zM289 160h1v1h-1zM292 160h1v1h-1zM295 160h1v1h-1zM298 160h1v1h-1zM301 160h1v1h-1zM304 160h1v1h-1zM307 160h1v1h-1zM310 160h1v1h-1zM313 160h1v1h-1zM316 160h1v1h-1zM319 160h1v1h-1zM322 160h1v1h-1zM325 160h1v1h-1zM328 160h1v1h-1zM331 160h1v1h-1zM334 160h1v1h-1zM337 160h1v1h-1zM340 160h1v1h-1zM343 160h1v1h-1zM346 160h1v1h-1zM349 160h1v1h-1zM352 160h1v1h-1zM355 160h1v1h-1zM358 160h1v1h-1zM361 160h1v1h-1zM364 160h1v1h-1zM367 160h1v1h-1zM370 160h1v1h-1zM373 160h1v1h-1zM376 160h1v1h-1zM379 160h1v1h-1zM382 160h1v1h-1zM385 160h1v1h-1zM388 160h1v1h-1zM391 160h1v1h-1zM394 160h1v1h-1zM397 160h1v1h-1zM400 160h1v1h-1zM403 160h1v1h-1zM406 160h1v1h-1zM409 160h1v1h-1zM412 160h1v1h-1zM415 160h1v1h-1zM418 160h1v1h-1zM421 160h1v1h-1zM424 160h1v1h-1zM427 160h1v1h-1zM430 160h1v1h-1zM433 160h1v1h-1zM436 160h1v1h-1zM439 160h1v1h-1zM442 160h1v1h-1zM445 160h1v1h-1zM448 160h1v1h-1zM451 160h1v1h-1zM454 160h1v1h-1zM457 160h1v1h-1zM460 160h1v1h-1zM463 160h1v1h-1zM466 160h1v1h-1zM469 160h1v1h-1zM472 160h1v1h-1zM475 160h1v1h-1zM478 160h1v1h-1zM481 160h1v1h-1zM484 160h1v1h-1zM487 160h1v1h-1zM490 160h1v1h-1zM493 160h1v1h-1zM496 160h1v1h-1zM499 160h1v1h-1zM502 160h1v1h-1zM505 160h1v1h-1zM508 160h1v1h-1zM511 160h1v1h-1zM514 160h1v1h-1zM517 160h1v1h-1zM520 160h1v1h-1zM523 160h1v1h-1zM526 160h1v1h-1zM529 160h1v1h-1zM532 160h1v1h-1zM535 160h1v1h-1zM538 160h1v1h-1zM541 160h1v1h-1zM544 160h1v1h-1zM547 160h1v1h-1zM550 160h1v1h-1zM553 160h1v1h-1zM556 160h1v1h-1zM559 160h1v1h-1zM562 160h1v1h-1zM565 160h1v1h-1zM568 160h1v1h-1zM571 160h1v1h-1zM574 160h1v1h-1zM577 160h1v1h-1zM580 160h1v1h-1zM583 160h1v1h-1zM586 160h1v1h-1zM589 160h1v1h-1zM592 160h1v1h-1zM595 160h1v1h-1zM598 160h1v1h-1zM601 160h1v1h-1zM604 160h1v1h-1zM607 160h1v1h-1zM610 160h1v1h-1zM613 160h1v1h-1zM616 160h1v1h-1zM619 160h1v1h-1zM622 160h1v1h-1zM625 160h1v1h-1zM628 160h1v1h-1zM631 160h1v1h-1zM634 160h1v1h-1zM637 160h1v1h-1zM640 160h1v1h-1zM643 160h1v1h-1zM646 160h1v1h-1zM649 160h1v1h-1zM652 160h1v1h-1zM655 160h1v1h-1zM658 160h1v1h-1zM661 160h1v1h-1zM664 160h1v1h-1zM667 160h1v1h-1zM670 160h1v1h-1zM673 160h1v1h-1zM676 160h1v1h-1zM679 160h1v1h-1zM682 160h1v1h-1zM685 160h1v1h-1zM688 160h1v1h-1zM691 160h1v1h-1zM694 160h1v1h-1zM697 160h1v1h-1zM700 160h1v1h-1zM703 160h1v1h-1zM706 160h1v1h-1zM709 160h1v1h-1zM712 160h1v1h-1zM715 160h1v1h-1zM718 160h1v1h-1zM721 160h1v1h-1zM724 160h1v1h-1zM727 160h1v1h-1zM730 160h1v1h-1zM733 160h1v1h-1zM736 160h1v1h-1zM739 160h1v1h-1zM742 160h1v1h-1zM745 160h1v1h-1zM748 160h1v1h-1zM751 160h1v1h-1zM754 160h1v1h-1zM757 160h1v1h-1zM760 160h1v1h-1zM763 160h1v1h-1zM766 160h1v1h-1zM769 160h1v1h-1zM772 160h1v1h-1zM775 160h1v1h-1zM778 160h1v1h-1zM781 160h1v1h-1zM784 160h1v1h-1zM787 160h1v1h-1zM790 160h1v1h-1zM793 160h1v1h-1zM796 160h1v1h-1zM799 160h1v1h-1zM802 160h1v1h-1zM805 160h1v1h-1zM808 160h1v1h-1zM811 160h1v1h-1zM814 160h1v1h-1zM817 160h1v1h-1zM820 160h1v1h-1zM823 160h1v1h-1zM826 160h1v1h-1zM829 160h1v1h-1zM832 160h1v1h-1zM835 160h1v1h-1zM838 160h1v1h-1zM841 160h1v1h-1zM844 160h1v1h-1zM847 160h1v1h-1zM850 160h1v1h-1zM853 160h1v1h-1zM856 160h1v1h-1zM859 160h1v1h-1zM862 160h1v1h-1zM865 160h1v1h-1zM868 160h1v1h-1zM871 160h1v1h-1zM874 160h1v1h-1zM877 160h1v1h-1zM880 160h1v1h-1zM883 160h1v1h-1zM886 160h1v1h-1zM889 160h1v1h-1zM892 160h1v1h-1zM895 160h1v1h-1zM898 160h1v1h-1zM901 160h1v1h-1zM904 160h1v1h-1zM907 160h1v1h-1zM910 160h1v1h-1zM913 160h1v1h-1zM916 160h1v1h-1zM919 160h1v1h-1zM922 160h1v1h-1zM925 160h1v1h-1zM928 160h1v1h-1zM931 160h1v1h-1zM934 160h1v1h-1zM937 160h1v1h-1zM940 160h1v1h-1zM943 160h1v1h-1zM946 160h1v1h-1zM949 160h1v1h-1zM952 160h1v1h-1zM955 160h1v1h-1zM958 160h1v1h-1zM961 160h1v1h-1zM964 160h1v1h-1zM967 160h1v1h-1zM970 160h1v1h-1zM973 160h1v1h-1zM976 160h1v1h-1zM979 160h1v1h-1zM982 160h1v1h-1zM985 160h1v1h-1zM988 160h1v1h-1zM991 160h1v1h-1zM994 160h1v1h-1zM997 160h1v1h-1zM1000 160h1v1h-1zM1003 160h1v1h-1zM1006 160h1v1h-1zM1009 160h1v1h-1zM1012 160h1v1h-1zM1015 160h1v1h-1zM1018 160h1v1h-1zM1021 160h1v1h-1zM1024 160h1v1h-1zM1027 160h1v1h-1zM1030 160h1v1h-1zM1033 160h1v1h-1zM1036 160h1v1h-1zM1039 160h1v1h-1zM1042 160h1v1h-1zM1045 160h1v1h-1zM1048 160h1v1h-1zM1051 160h1v1h-1zM1054 160h1v1h-1zM1057 160h1v1h-1zM1060 160h1v1h-1zM1063 160h1v1h-1zM1066 160h1v1h-1zM1069 160h1v1h-1zM1072 160h1v1h-1zM1075 160h1v1h-1zM1078 160h1v1h-1zM1081 160h1v1h-1zM1084 160h1v1h-1zM1087 160h1v1h-1zM1090 160h1v1h-1zM1093 160h1v1h-1zM1096 160h1v1h-1zM1099 160h1v1h-1zM1102 160h1v1h-1zM1105 160h1v1h-1zM1108 160h1v1h-1zM1111 160h1v1h-1zM1114 160h1v1h-1zM1117 160h1v1h-1zM1120 160h1v1h-1zM1123 160h1v1h-1zM1126 160h1v1h-1zM1129 160h1v1h-1zM1132 160h1v1h-1zM1135 160h1v1h-1zM1138 160h1v1h-1zM1141 160h1v1h-1zM1144 160h1v1h-1zM1147 160h1v1h-1zM1150 160h1v1h-1zM1153 160h1v1h-1zM1156 160h1v1h-1zM1159 160h1v1h-1zM1162 160h1v1h-1zM1165 160h1v1h-1zM1168 160h1v1h-1zM1171 160h1v1h-1zM1174 160h1v1h-1zM1177 160h1v1h-1zM1180 160h1v1h-1zM1183 160h1v1h-1zM1186 160h1v1h-1zM1189 160h1v1h-1zM1192 160h1v1h-1zM1195 160h1v1h-1zM1198 160h1v1h-1zM1201 160h1v1h-1zM1204 160h1v1h-1zM1207 160h1v1h-1zM1210 160h1v1h-1zM1213 160h1v1h-1zM1216 160h1v1h-1zM1219 160h1v1h-1zM1222 160h1v1h-1zM1225 160h1v1h-1zM1228 160h1v1h-1zM1231 160h1v1h-1zM1234 160h1v1h-1zM1237 160h1v1h-1zM1240 160h1v1h-1zM1243 160h1v1h-1zM1246 160h1v1h-1zM1249 160h1v1h-1zM1252 160h1v1h-1zM1255 160h1v1h-1zM1258 160h1v1h-1zM1261 160h1v1h-1zM1264 160h1v1h-1zM1267 160h1v1h-1zM1270 160h1v1h-1zM1273 160h1v1h-1zM1276 160h1v1h-1zM1279 160h1v1h-1zM1282 160h1v1h-1zM1285 160h1v1h-1zM1288 160h1v1h-1zM1291 160h1v1h-1zM1294 160h1v1h-1zM1297 160h1v1h-1zM1300 160h1v1h-1zM1303 160h1v1h-1zM1306 160h1v1h-1zM1309 160h1v1h-1zM1312 160h1v1h-1zM1315 160h1v1h-1zM1318 160h1v1h-1zM1321 160h1v1h-1zM1324 160h1v1h-1zM1327 160h1v1h-1zM1330 160h1v1h-1zM1333 160h1v1h-1zM1336 160h1v1h-1zM1339 160h1v1h-1zM1342 160h1v1h-1zM1345 160h1v1h-1zM1348 160h1v1h-1zM1351 160h1v1h-1zM1354 160h1v1h-1zM1357 160h1v1h-1zM1360 160h1v1h-1zM1363 160h1v1h-1zM1366 160h1v1h-1zM1369 160h1v1h-1zM1372 160h1v1h-1zM1375 160h1v1h-1zM1378 160h1v1h-1zM1381 160h1v1h-1zM1384 160h1v1h-1zM1387 160h1v1h-1zM1390 160h1v1h-1zM1393 160h1v1h-1zM1396 160h1v1h-1zM1399 160h1v1h-1zM1402 160h1v1h-1zM1405 160h1v1h-1zM1408 160h1v1h-1zM1411 160h1v1h-1zM1414 160h1v1h-1zM1417 160h1v1h-1zM1420 160h1v1h-1zM1423 160h1v1h-1zM1426 160h1v1h-1zM1429 160h1v1h-1zM1432 160h1v1h-1zM1435 160h1v1h-1zM1438 160h1v1h-1zM1441 160h1v1h-1zM1444 160h1v1h-1zM1447 160h1v1h-1zM1450 160h1v1h-1zM1453 160h1v1h-1zM1456 160h1v1h-1zM1459 160h1v1h-1zM1462 160h1v1h-1zM1465 160h1v1h-1zM1468 160h1v1h-1zM1471 160h1v1h-1zM1474 160h1v1h-1zM1477 160h1v1h-1zM1480 160h1v1h-1zM1483 160h1v1h-1zM1486 160h1v1h-1zM1489 160h1v1h-1zM1492 160h1v1h-1zM1495 160h1v1h-1zM1498 160h1v1h-1zM1501 160h1v1h-1zM1504 160h1v1h-1zM1507 160h1v1h-1zM1510 160h1v1h-1zM1513 160h1v1h-1zM1516 160h1v1h-1zM1519 160h1v1h-1zM1522 160h1v1h-1zM1525 160h1v1h-1zM1528 160h1v1h-1zM1531 160h1v1h-1zM1534 160h1v1h-1zM1537 160h1v1h-1zM1540 160h1v1h-1zM1543 160h1v1h-1zM1546 160h1v1h-1zM1549 160h1v1h-1zM1552 160h1v1h-1zM1555 160h1v1h-1zM1558 160h1v1h-1zM1561 160h1v1h-1zM1564 160h1v1h-1zM1567 160h1v1h-1zM1570 160h1v1h-1zM1573 160h1v1h-1zM1576 160h1v1h-1zM1579 160h1v1h-1zM1582 160h1v1h-1zM1585 160h1v1h-1zM1588 160h1v1h-1zM1591 160h1v1h-1zM1594 160h1v1h-1zM1597 160h1v1h-1zM1600 160h1v1h-1zM1603 160h1v1h-1zM1606 160h1v1h-1zM1609 160h1v1h-1zM1612 160h1v1h-1zM1615 160h1v1h-1zM1618 160h1v1h-1zM1621 160h1v1h-1zM1624 160h1v1h-1zM1627 160h1v1h-1zM1630 160h1v1h-1zM1633 160h1v1h-1zM1636 160h1v1h-1zM1639 160h1v1h-1zM1642 160h1v1h-1zM1645 160h1v1h-1zM1648 160h1v1h-1zM1651 160h1v1h-1zM1654 160h1v1h-1zM1657 160h1v1h-1zM1660 160h1v1h-1z" fill="#2962ff"/>
</g>
<circle cx="1549.6" cy="707.3" r="12.3" fill="#fff" stroke="#9c27b0" stroke-width="1.7"/>
<path d="M1553.9 700.5L1543.2 708.5L1549.4 708L1545.2 714.1L1555.9 706.2L1549.8 706.7z" fill="#9c27b0"/>
<text x="1735.10" y="98.40" font-size="14.6" fill="#131722" stroke="#131722" textLength="53.44" lengthAdjust="spacingAndGlyphs">161.000</text>
<text x="1735.10" y="141.97" font-size="14.6" fill="#131722" stroke="#131722" textLength="53.44" lengthAdjust="spacingAndGlyphs">160.000</text>
<text x="1735.10" y="316.25" font-size="14.6" fill="#131722" stroke="#131722" textLength="53.44" lengthAdjust="spacingAndGlyphs">156.000</text>
<text x="1735.10" y="359.82" font-size="14.6" fill="#131722" stroke="#131722" textLength="53.44" lengthAdjust="spacingAndGlyphs">155.000</text>
<text x="1735.10" y="403.39" font-size="14.6" fill="#131722" stroke="#131722" textLength="53.44" lengthAdjust="spacingAndGlyphs">154.000</text>
<text x="1735.10" y="446.96" font-size="14.6" fill="#131722" stroke="#131722" textLength="53.44" lengthAdjust="spacingAndGlyphs">153.000</text>
<text x="1735.10" y="534.10" font-size="14.6" fill="#131722" stroke="#131722" textLength="53.44" lengthAdjust="spacingAndGlyphs">151.000</text>
<text x="1735.10" y="577.67" font-size="14.6" fill="#131722" stroke="#131722" textLength="53.44" lengthAdjust="spacingAndGlyphs">150.000</text>
<text x="1735.10" y="621.24" font-size="14.6" fill="#131722" stroke="#131722" textLength="53.44" lengthAdjust="spacingAndGlyphs">149.000</text>
<text x="1735.10" y="664.81" font-size="14.6" fill="#131722" stroke="#131722" textLength="53.44" lengthAdjust="spacingAndGlyphs">148.000</text>
<text x="1735.10" y="708.38" font-size="14.6" fill="#131722" stroke="#131722" textLength="53.44" lengthAdjust="spacingAndGlyphs">147.000</text>
<path d="M1724 149h-58.5a2.5 2.5 0 0 0 -2.5 2.5v16.0a2.5 2.5 0 0 0 2.5 2.5h58.5z" fill="#089981"/>
<text x="1668.60" y="164.90" font-size="14.3" fill="#fff" stroke="#fff" textLength="50.17" lengthAdjust="spacingAndGlyphs">USDJPY</text>
<path d="M1725 149h67.5a2.5 2.5 0 0 1 2.5 2.5v34.0a2.5 2.5 0 0 1 -2.5 2.5h-67.5z" fill="#089981"/>
<text x="1736.60" y="165.00" font-size="14.6" fill="#fff" stroke="#fff" textLength="52.04" lengthAdjust="spacingAndGlyphs">159.481</text>
<text x="1736.10" y="183.00" font-size="14.6" fill="#c5e8e1" stroke="#c5e8e1" textLength="37.04" lengthAdjust="spacingAndGlyphs">26:59</text>
<path d="M1725 188h67.5a2.5 2.5 0 0 1 2.5 2.5v16.0a2.5 2.5 0 0 1 -2.5 2.5h-67.5z" fill="#2962ff"/><text x="1736.60" y="204.20" font-size="14.6" fill="#fff" stroke="#fff" textLength="52.04" lengthAdjust="spacingAndGlyphs">159.477</text>
<path d="M1725 209h67.5a2.5 2.5 0 0 1 2.5 2.5v16.0a2.5 2.5 0 0 1 -2.5 2.5h-67.5z" fill="#ffeb3b"/><text x="1736.60" y="225.00" font-size="14.6" fill="#131722" stroke="#131722" textLength="52.04" lengthAdjust="spacingAndGlyphs">159.200</text>
<path d="M1725 230h67.5a2.5 2.5 0 0 1 2.5 2.5v16.0a2.5 2.5 0 0 1 -2.5 2.5h-67.5z" fill="#ffeb3b"/><text x="1736.60" y="245.80" font-size="14.6" fill="#131722" stroke="#131722" textLength="52.04" lengthAdjust="spacingAndGlyphs">158.399</text>
<path d="M1725 252h67.5a2.5 2.5 0 0 1 2.5 2.5v16.0a2.5 2.5 0 0 1 -2.5 2.5h-67.5z" fill="#2962ff"/><text x="1736.60" y="268.10" font-size="14.6" fill="#fff" stroke="#fff" textLength="52.04" lengthAdjust="spacingAndGlyphs">157.668</text>
<path d="M1725 373h67.5a2.5 2.5 0 0 1 2.5 2.5v16.0a2.5 2.5 0 0 1 -2.5 2.5h-67.5z" fill="#f8bbd0"/><text x="1736.60" y="389.10" font-size="14.6" fill="#131722" stroke="#131722" textLength="52.04" lengthAdjust="spacingAndGlyphs">154.350</text>
<path d="M1725 472h67.5a2.5 2.5 0 0 1 2.5 2.5v16.0a2.5 2.5 0 0 1 -2.5 2.5h-67.5z" fill="#2962ff"/><text x="1736.60" y="488.20" font-size="14.6" fill="#fff" stroke="#fff" textLength="52.04" lengthAdjust="spacingAndGlyphs">152.069</text>
<text x="12.60" y="788.80" font-size="14.6" fill="#131722" stroke="#131722" textLength="15.00" lengthAdjust="spacingAndGlyphs">13</text>
<text x="78.60" y="788.80" font-size="14.6" fill="#131722" stroke="#131722" textLength="15.00" lengthAdjust="spacingAndGlyphs">19</text>
<text x="145.60" y="788.80" font-size="14.6" fill="#131722" stroke="#131722" textLength="15.00" lengthAdjust="spacingAndGlyphs">25</text>
<text x="205.70" y="788.80" font-size="14" fill="#131722" stroke="#131722" textLength="14.55" lengthAdjust="spacingAndGlyphs">12</text>
<text x="221.10" y="789.50" font-size="13.9" fill="#131722" stroke="#131722">月</text>
<text x="282.04" y="788.80" font-size="14.6" fill="#131722" stroke="#131722">5</text>
<text x="344.60" y="788.80" font-size="14.6" fill="#131722" stroke="#131722" textLength="15.05" lengthAdjust="spacingAndGlyphs">11</text>
<text x="411.60" y="788.80" font-size="14.6" fill="#131722" stroke="#131722" textLength="15.00" lengthAdjust="spacingAndGlyphs">17</text>
<text x="477.60" y="788.80" font-size="14.6" fill="#131722" stroke="#131722" textLength="15.00" lengthAdjust="spacingAndGlyphs">23</text>
<text x="568.50" y="788.80" font-size="14.6" fill="#131722" stroke="#131722" font-weight="bold" textLength="33.21" lengthAdjust="spacingAndGlyphs">2026</text>
<text x="648.04" y="788.80" font-size="14.6" fill="#131722" stroke="#131722">8</text>
<text x="710.60" y="788.80" font-size="14.6" fill="#131722" stroke="#131722" textLength="15.00" lengthAdjust="spacingAndGlyphs">14</text>
<text x="777.60" y="788.80" font-size="14.6" fill="#131722" stroke="#131722" textLength="15.00" lengthAdjust="spacingAndGlyphs">20</text>
<text x="843.60" y="788.80" font-size="14.6" fill="#131722" stroke="#131722" textLength="15.00" lengthAdjust="spacingAndGlyphs">26</text>
<text x="923.33" y="788.80" font-size="14" fill="#131722" stroke="#131722">2</text>
<text x="931.55" y="789.50" font-size="13.9" fill="#131722" stroke="#131722">月</text>
<text x="997.04" y="788.80" font-size="14.6" fill="#131722" stroke="#131722">6</text>
<text x="1059.60" y="788.80" font-size="14.6" fill="#131722" stroke="#131722" textLength="15.00" lengthAdjust="spacingAndGlyphs">12</text>
<text x="1126.60" y="788.80" font-size="14.6" fill="#131722" stroke="#131722" textLength="15.00" lengthAdjust="spacingAndGlyphs">18</text>
<text x="1192.60" y="788.80" font-size="14.6" fill="#131722" stroke="#131722" textLength="15.00" lengthAdjust="spacingAndGlyphs">24</text>
<text x="1256.32" y="788.80" font-size="14" fill="#131722" stroke="#131722">3</text>
<text x="1264.55" y="789.50" font-size="13.9" fill="#131722" stroke="#131722">月</text>
<text x="1329.04" y="788.80" font-size="14.6" fill="#131722" stroke="#131722">6</text>
<text x="1392.60" y="788.80" font-size="14.6" fill="#131722" stroke="#131722" textLength="15.00" lengthAdjust="spacingAndGlyphs">12</text>
<text x="1458.60" y="788.80" font-size="14.6" fill="#131722" stroke="#131722" textLength="15.00" lengthAdjust="spacingAndGlyphs">18</text>
<text x="1525.60" y="788.80" font-size="14.6" fill="#131722" stroke="#131722" textLength="15.00" lengthAdjust="spacingAndGlyphs">24</text>
<text x="1621.82" y="788.80" font-size="14" fill="#131722" stroke="#131722">4</text>
<text x="1630.05" y="789.50" font-size="13.9" fill="#131722" stroke="#131722">月</text>
<text x="1695.04" y="788.80" font-size="14.6" fill="#131722" stroke="#131722">7</text>
<text x="13.52" y="24.00" font-size="14" fill="#0c0c0c" stroke="#0c0c0c">3</text>
<text x="21.90" y="25.10" font-size="13.8" fill="#0c0c0c" stroke="#0c0c0c">月</text>
<text x="40.40" y="24.00" font-size="14" fill="#0c0c0c" stroke="#0c0c0c" textLength="19.46" lengthAdjust="spacingAndGlyphs">26,</text>
<text x="66.50" y="24.00" font-size="14" fill="#0c0c0c" stroke="#0c0c0c" textLength="29.92" lengthAdjust="spacingAndGlyphs">2026</text>
<text x="102.60" y="24.00" font-size="14" fill="#0c0c0c" stroke="#0c0c0c" textLength="35.74" lengthAdjust="spacingAndGlyphs">05:33</text>
<text x="144.30" y="24.00" font-size="14" fill="#0c0c0c" stroke="#0c0c0c" textLength="40.99" lengthAdjust="spacingAndGlyphs">UTC+9</text>
<text x="185.58" y="25.10" font-size="14" fill="#0c0c0c" stroke="#0c0c0c">、</text>
<text x="202.00" y="24.00" font-size="14" fill="#0c0c0c" stroke="#0c0c0c" textLength="88.33" lengthAdjust="spacingAndGlyphs">shimatetsu27</text>
<text x="290.48" y="25.10" font-size="14.4" fill="#0c0c0c" stroke="#0c0c0c">が</text>
<text x="306.50" y="24.00" font-size="14" fill="#0c0c0c" stroke="#0c0c0c" textLength="111.19" lengthAdjust="spacingAndGlyphs">TradingView.com</text>
<text x="418.86" y="25.10" font-size="14.4" fill="#0c0c0c" stroke="#0c0c0c">で</text>
<text x="434.92" y="25.10" font-size="13.8" fill="#0c0c0c" stroke="#0c0c0c">作</text>
<text x="449.62" y="25.10" font-size="13.8" fill="#0c0c0c" stroke="#0c0c0c">成</text>
<text x="22.90" y="58.70" font-size="14.6" fill="#131722" stroke="#131722" textLength="37.25" lengthAdjust="spacingAndGlyphs">MACD</text>
<text x="23.07 35.86 53.05 67.47 82.42" y="100.70" font-size="14.8" fill="#131722" stroke="#131722">米ドル／円</text>
<circle cx="105.2" cy="96.1" r="1.15" fill="#131722"/>
<text x="112.33" y="100.90" font-size="14" fill="#131722" stroke="#131722">1</text>
<text x="120.36" y="100.70" font-size="14.8" fill="#131722" stroke="#131722">日</text>
<circle cx="143.2" cy="96.1" r="1.15" fill="#131722"/>
<text x="150.40" y="100.90" font-size="14" fill="#131722" stroke="#131722" textLength="46.22" lengthAdjust="spacingAndGlyphs">OANDA</text>
<text x="205.12 220.66" y="100.70" font-size="14.8" fill="#131722" stroke="#131722">始値</text>
<text x="236.30" y="100.90" font-size="14.8" fill="#089981" stroke="#089981" textLength="51.24" lengthAdjust="spacingAndGlyphs">158.702</text>
<text x="297.53 313.16" y="100.70" font-size="14.8" fill="#131722" stroke="#131722">高値</text>
<text x="328.70" y="100.90" font-size="14.8" fill="#089981" stroke="#089981" textLength="50.74" lengthAdjust="spacingAndGlyphs">159.503</text>
<text x="389.17 404.76" y="100.70" font-size="14.8" fill="#131722" stroke="#131722">安値</text>
<text x="420.00" y="100.90" font-size="14.8" fill="#089981" stroke="#089981" textLength="51.94" lengthAdjust="spacingAndGlyphs">158.574</text>
<text x="480.63 495.96" y="100.70" font-size="14.8" fill="#131722" stroke="#131722">終値</text>
<text x="511.60" y="100.90" font-size="14.8" fill="#089981" stroke="#089981" textLength="51.14" lengthAdjust="spacingAndGlyphs">159.481</text>
<text x="573.00" y="100.90" font-size="14.8" fill="#089981" stroke="#089981" textLength="43.92" lengthAdjust="spacingAndGlyphs">+0.776</text>
<text x="622.70" y="100.90" font-size="14.8" fill="#089981" stroke="#089981" textLength="55.61" lengthAdjust="spacingAndGlyphs">(+0.49%)</text>
<text x="23.20" y="121.80" font-size="14.6" fill="#131722" stroke="#131722" textLength="79.66" lengthAdjust="spacingAndGlyphs">BB+MA+EMA</text>
<text x="23.00" y="749.70" font-size="14.6" fill="#131722" stroke="#131722" textLength="19.94" lengthAdjust="spacingAndGlyphs">RSI</text>
<path d="M15.5 828.9h15.2v18.2h-7.5v-11.2h-7.7z" fill="#131313"/>
<circle cx="36.3" cy="832.1" r="3.4" fill="#131313"/>
<path d="M42.3 828.9h10.6l-6.7 18.2h-9.1z" fill="#131313"/>
<text x="60.96 75.39 83.78 99.53 115.32 122.22 137.93 153.54 170.90 179.14 193.36" y="846.9" font-size="25" font-weight="bold" fill="#131313" stroke="#131313" style="stroke-width:0.2px">TradingView</text>
</svg>
</body></html>
